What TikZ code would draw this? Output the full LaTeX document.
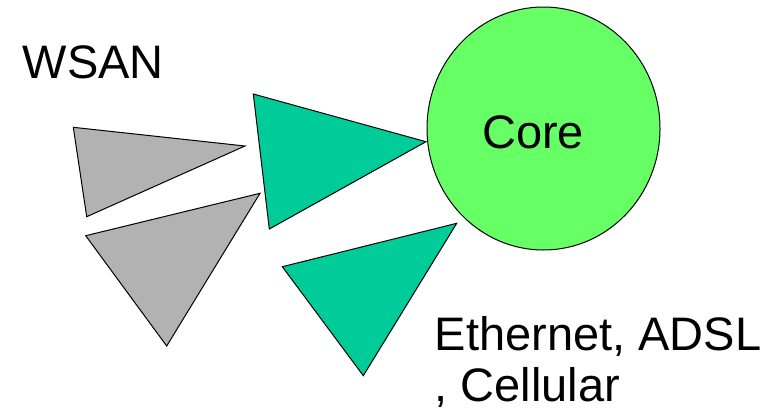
\documentclass[tikz,border=0pt]{standalone}
\usepackage{fontspec}
\setmainfont{Liberation Sans}
\usetikzlibrary{shapes.geometric}
\definecolor{grayfill}{RGB}{178,178,178}
\definecolor{tealfill}{RGB}{0,204,153}
\definecolor{corefill}{RGB}{102,255,102}
\begin{document}
\begin{tikzpicture}[x=1pt,y=-1pt,
  tri/.style={draw=black,line width=1pt,line join=miter},
  graytri/.style={tri,fill=grayfill},
  tealtri/.style={tri,fill=tealfill},
  lbl/.style={inner sep=0pt,font=\fontsize{47}{52}\selectfont}]
\useasboundingbox (0,0) rectangle (781,415);
% gray triangles
\draw[graytri] (73.3,127.3) -- (245,146) -- (86.7,216.7) -- cycle;
\draw[graytri] (85.7,235.7) -- (260,193.3) -- (166.7,346) -- cycle;
% teal triangles
\draw[tealtri] (253.3,94) -- (426,141.7) -- (269.3,229) -- cycle;
\draw[tealtri] (282.3,266.7) -- (456.7,223.3) -- (363.3,375.7) -- cycle;
% core
\node[ellipse,draw=black,line width=1pt,fill=corefill,minimum width=233pt,minimum height=243pt,inner sep=0pt] (core) at (543.5,128.5) {};
\node[lbl,anchor=base] (coretext) at (533,148) {Core};
\node[lbl,anchor=base west] (wsan) at (22.5,78.3) {WSAN};
\node[lbl,anchor=base west] (eth) at (434.5,350) {Ethernet, ADSL};
\node[lbl,anchor=base west] (cell) at (434.5,401.7) {, Cellular};
\end{tikzpicture}
\end{document}
